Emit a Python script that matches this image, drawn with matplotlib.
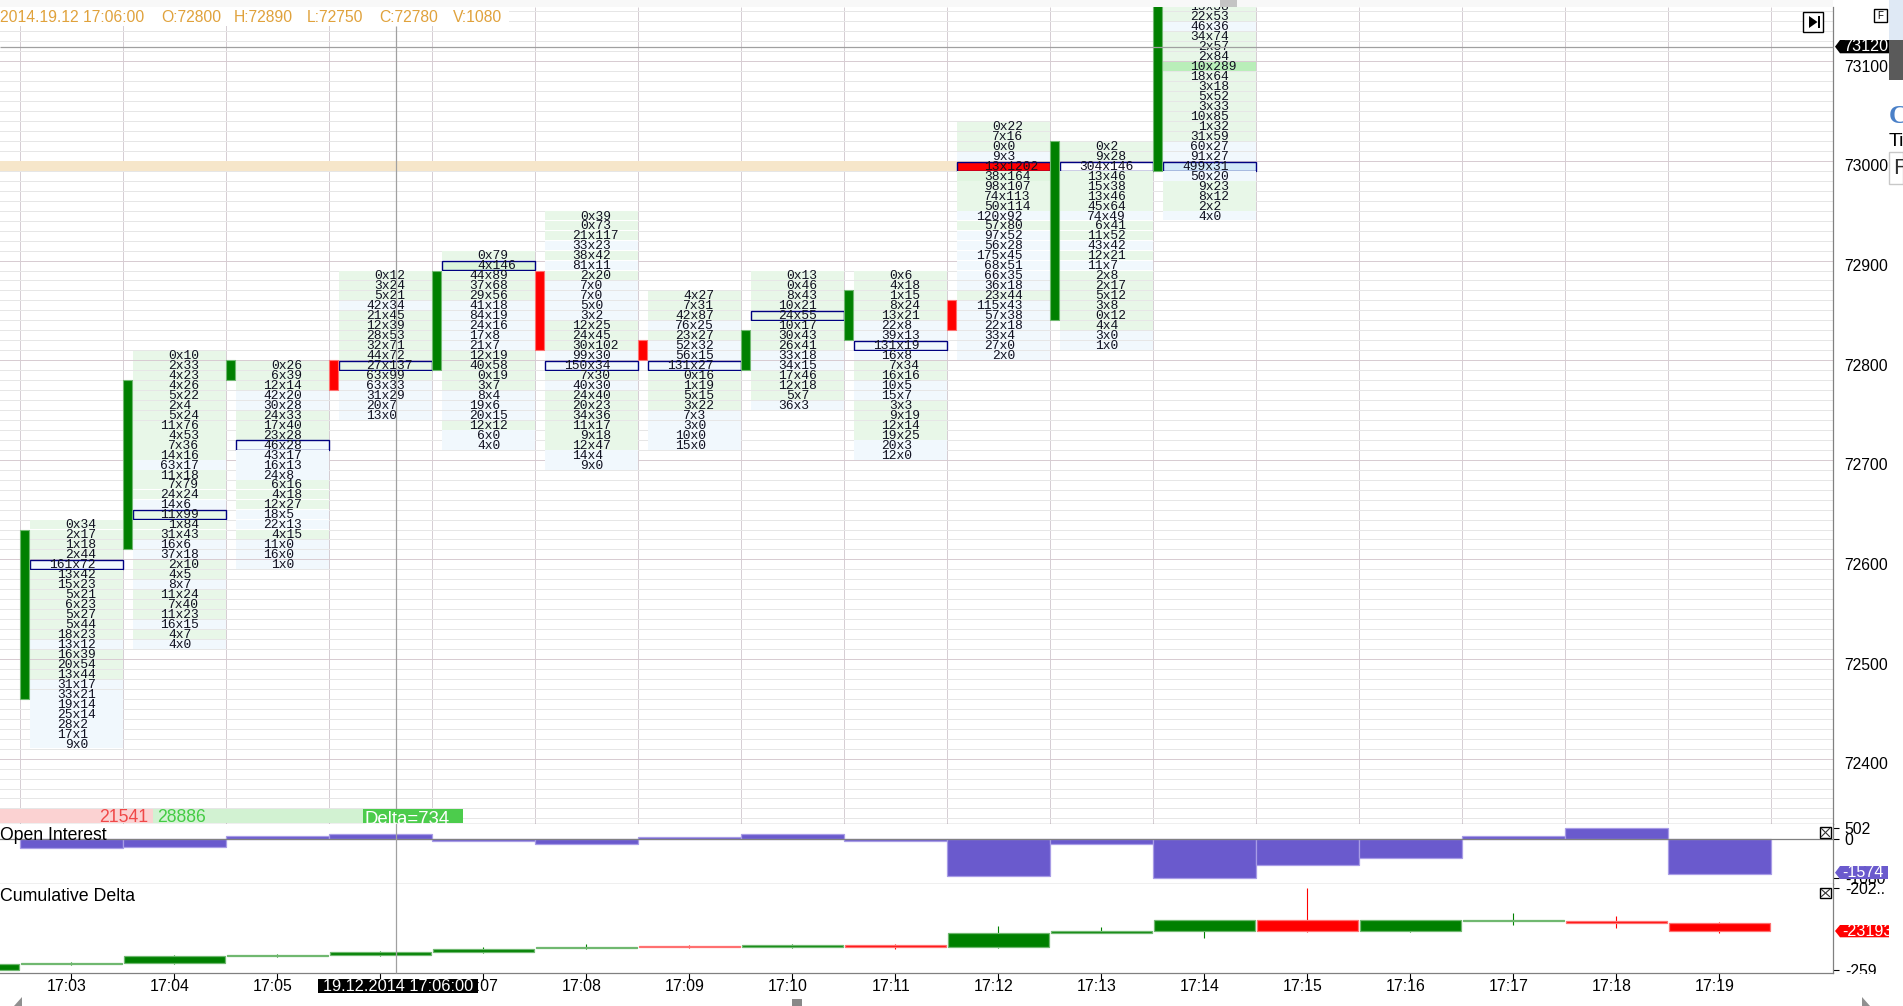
import matplotlib
matplotlib.use('Agg')
import matplotlib.pyplot as plt
from matplotlib.patches import Rectangle, Polygon
from matplotlib.transforms import ScaledTranslation

W, H = 1903, 1006

# footprint candles
bar_times = ['17:03', '17:04', '17:05', '17:06', '17:07', '17:08', '17:09', '17:10',
             '17:11', '17:12', '17:13', '17:14', '17:15', '17:16', '17:17', '17:18', '17:19']
bar_open = [72470, 72620, 72790, 72800, 72800, 72890, 72820, 72800, 72830, 72860, 72850, 73000]
bar_close = [72630, 72780, 72800, 72780, 72890, 72820, 72810, 72830, 72870, 72840, 73020, 73170]
top_price = [72640, 72810, 72800, 72890, 72910, 72950, 72870, 72890, 72890, 73040, 73020, 73160]
poc_price = [72600, 72650, 72720, 72800, 72900, 72800, 72800, 72850, 72820, 73000, 73000, 73000]

rows_0 = ['0x34', '2x17', '1x18', '2x44', '161x72', '13x42', '15x23', '5x21', '6x23', '5x27', '5x44', '18x23',
          '13x12', '16x39', '20x54', '13x44', '31x17', '33x21', '19x14', '25x14', '28x2', '17x1', '9x0']
rows_1 = ['0x10', '2x33', '4x23', '4x26', '5x22', '2x4', '5x24', '11x76', '4x53', '7x36', '14x16', '63x17',
          '11x18', '7x79', '24x24', '14x6', '11x99', '1x84', '31x43', '16x6', '37x18', '2x10', '4x5', '8x7',
          '11x24', '7x40', '11x23', '16x15', '4x7', '4x0']
rows_2 = ['0x26', '6x39', '12x14', '42x20', '30x28', '24x33', '17x40', '23x28', '46x28', '43x17', '16x13', '24x8',
          '6x16', '4x18', '12x27', '18x5', '22x13', '4x15', '11x0', '16x0', '1x0']
rows_3 = ['0x12', '3x24', '5x21', '42x34', '21x45', '12x39', '28x53', '32x71', '44x72', '27x137', '63x99',
          '63x33', '31x29', '20x7', '13x0']
rows_4 = ['0x79', '4x146', '44x89', '37x68', '29x56', '41x18', '84x19', '24x16', '17x8', '21x7', '12x19', '40x58',
          '0x19', '3x7', '8x4', '19x6', '20x15', '12x12', '6x0', '4x0']
rows_5 = ['0x39', '0x73', '21x117', '33x23', '38x42', '81x11', '2x20', '7x0', '7x0', '5x0', '3x2', '12x25', '24x45',
          '30x102', '99x30', '150x34', '7x30', '40x30', '24x40', '20x23', '34x36', '11x17', '9x18', '12x47',
          '14x4', '9x0']
rows_6 = ['4x27', '7x31', '42x87', '76x25', '23x27', '52x32', '56x15', '131x27', '0x16', '1x19', '5x15', '3x22',
          '7x3', '3x0', '10x0', '15x0']
rows_7 = ['0x13', '0x46', '8x43', '10x21', '24x55', '10x17', '30x43', '26x41', '33x18', '34x15', '17x46', '12x18',
          '5x7', '36x3']
rows_8 = ['0x6', '4x18', '1x15', '8x24', '13x21', '22x8', '39x13', '131x19', '16x8', '7x34', '16x16', '10x5', '15x7',
          '3x3', '9x19', '12x14', '19x25', '20x3', '12x0']
rows_9 = ['0x22', '7x16', '0x0', '9x3', '13x1202', '38x164', '98x107', '74x113', '50x114', '120x92', '57x80', '97x52',
          '56x28', '175x45', '68x51', '66x35', '36x18', '23x44', '115x43', '57x38', '22x18', '33x4', '27x0', '2x0']
rows_10 = ['0x2', '9x28', '304x146', '13x46', '15x38', '13x46', '45x64', '74x49', '6x41', '11x52', '43x42', '12x21',
           '11x7', '2x8', '2x17', '5x12', '3x8', '0x12', '4x4', '3x0', '1x0']
rows_11 = ['15x38', '22x53', '46x36', '34x74', '2x57', '2x84', '10x289', '18x64', '3x18', '5x52', '3x33', '10x85',
           '1x32', '31x59', '60x27', '91x27', '499x31', '50x20', '9x23', '8x12', '2x2', '4x0']
all_rows = [rows_0, rows_1, rows_2, rows_3, rows_4, rows_5, rows_6, rows_7, rows_8, rows_9, rows_10, rows_11]

special_cells = {'10x289': '#b9eeb9', '499x31': '#d2e9f8', '13x1202': '#ff0000', '304x146': '#ffffff',
                 '4x146': '#dcf5dc', '38x164': '#e0f5e0'}

# open interest
oi_values = [-411, -365, 167, 228, -60, -228, 122, 228, -60, -1689, -228, -1781, -1187, -868, 167, 502, -1574]

# cumulative delta, first entry is the cut off 17:02 bar
cd_open = [-25919, -25503, -25387, -24900, -24877, -24623, -24391, -24229, -24298, -24159, -24322, -23302,
           -23210, -22446, -23210, -22469, -22469, -22654]
cd_close = [-25503, -25389, -24900, -24854, -24623, -24414, -24275, -24321, -24183, -24298, -23302, -23210,
            -22446, -23210, -22446, -22423, -22654, -23193]
cd_high = [-25503, -25340, -24854, -24808, -24553, -24275, -24090, -24136, -24090, -24113, -22839, -22909,
           -22446, -20222, -22446, -21936, -22168, -22561]
cd_low = [-25919, -25520, -25480, -24970, -24924, -24715, -24460, -24368, -24368, -24437, -24368, -23349,
          -23650, -23256, -23256, -22747, -22955, -23326]

GREEN, GREEN_EDGE = '#008000', '#70b870'
RED, RED_EDGE = '#ff0000', '#ff7070'
PURPLE, PURPLE_EDGE = '#6a5acd', '#a89ce6'
AXIS = '#808080'
SANS = 'Liberation Sans'

fig = plt.figure(figsize=(W / 100, H / 100), dpi=100, facecolor='white')


def make_axes(top, bottom):
    ax = fig.add_axes([0, 1 - bottom / H, 1833 / W, (bottom - top) / H])
    ax.set_xlim(-71.5 / 103, (1833 - 71.5) / 103)
    for side in ['left', 'top']:
        ax.spines[side].set_visible(False)
    for side in ['right', 'bottom']:
        ax.spines[side].set_color(AXIS)
        ax.spines[side].set_linewidth(0.9)
    ax.yaxis.tick_right()
    return ax


def shift_px(dx, dy):
    return ScaledTranslation(dx / 100, dy / 100, fig.dpi_scale_trans)


ax = make_axes(7, 824)
ax_oi = make_axes(824, 884)
ax_cd = make_axes(884, 973)

# main panel
ax.set_ylim(72334.4, 73154.5)
ax.set_yticks(range(72400, 73101, 100))
ax.set_yticks(range(72340, 73151, 10), minor=True)
ax.tick_params(axis='y', which='both', length=0, pad=7.8, labelsize=11.3, labelfontfamily=SANS)
for lab in ax.get_yticklabels():
    lab.set_va('top')
    lab.set_transform(lab.get_transform() + shift_px(0, 1.5))
ax.set_xticks([])
ax.grid(axis='y', which='minor', color='#e6e6e6', lw=0.72, zorder=0)
ax.grid(axis='y', which='major', color='#d8ccd2', lw=0.72, zorder=0)
ax.set_axisbelow(True)
ax.vlines([i - 0.5 for i in range(18)], 72334.4, 73154.5, color='#d6ced4', lw=0.72, zorder=0.5)
ax.fill_between([-1, 9.5], 72990, 73000, color='#f6e6ca', lw=0, zorder=0.6)

for i, rows in enumerate(all_rows):
    left = i - 0.5 + 10.3 / 103
    w = 92.4 / 103
    for k, cell in enumerate(rows):
        price = top_price[i] - 10 * k
        bid, ask = cell.split('x')
        col = '#f1f8fd' if int(bid) > int(ask) else '#e8f7e8'
        col = special_cells.get(cell, col)
        is_poc = price == poc_price[i]
        ax.barh(price - 5.2, w, height=9.2, left=left, color=col, zorder=1,
                edgecolor='#000080' if is_poc else 'none', linewidth=1.0 if is_poc else 0)
        tx = i + (5 - (len(bid) + 0.5) * 7.7) / 103
        ax.text(tx, price - 5.8, cell, family='Liberation Mono', fontsize=9.4, color='#101020',
                ha='left', va='center', zorder=3, clip_on=True)

    top_body = max(bar_open[i], bar_close[i])
    bot_body = min(bar_open[i], bar_close[i]) - 10
    up = bar_close[i] > bar_open[i]
    ax.bar(i - 0.5, top_body - bot_body, width=8.7 / 103, bottom=bot_body, align='edge',
           color=GREEN if up else RED, edgecolor=GREEN_EDGE if up else RED_EDGE, linewidth=0.8, zorder=2)

# open interest panel
ax_oi.set_ylim(-2041, 699)
ax_oi.bar(range(len(oi_values)), oi_values, width=1, color=PURPLE, edgecolor=PURPLE_EDGE, linewidth=0.9, zorder=2)
ax_oi.axhline(0, color=AXIS, lw=0.9, zorder=3)
ax_oi.set_xticks([])
ax_oi.set_yticks([502, 0, -1788], ['502', '0', '-1080'])
ax_oi.tick_params(axis='y', length=4, width=0.8, pad=4.5, labelsize=11.3, labelfontfamily=SANS)
ax_oi.text(0.0, 0.80, 'Open Interest', transform=ax_oi.transAxes, family=SANS, fontsize=12.7, va='center', zorder=5)

# cumulative delta panel
ax_cd.set_ylim(-26107, -19922)
for i in range(len(cd_open)):
    x = i - 1
    up = cd_close[i] >= cd_open[i]
    c, e = (GREEN, GREEN_EDGE) if up else (RED, RED_EDGE)
    ax_cd.vlines(x, cd_low[i], cd_high[i], color=c, lw=0.8, zorder=2)
    ax_cd.bar(x, abs(cd_close[i] - cd_open[i]), width=0.985, bottom=min(cd_open[i], cd_close[i]),
              color=c, edgecolor=e, linewidth=0.9, zorder=3)
ax_cd.set_xticks(range(len(bar_times)), bar_times)
ax_cd.tick_params(axis='x', length=5, width=0.8, pad=0, labelsize=11.4, labelfontfamily=SANS)
for lab in ax_cd.get_xticklabels():
    lab.set_transform(lab.get_transform() + shift_px(-4.5, 1))
ax_cd.set_yticks([-20200, -25900], ['-202..', '-259..'])
ax_cd.tick_params(axis='y', length=4, width=0.8, pad=4.5, labelsize=11.3, labelfontfamily=SANS)
ax_cd.text(0.0, 0.865, 'Cumulative Delta', transform=ax_cd.transAxes, family=SANS, fontsize=12.8, va='center',
           zorder=5)

# window furniture on top, in pixel coordinates
top = fig.add_axes([0, 0, 1, 1], zorder=10)
top.set_xlim(0, W)
top.set_ylim(H, 0)
top.axis('off')


def box(x0, y0, x1, y1, fc, ec='none', lw=0, z=2):
    p = Rectangle((x0, y0), x1 - x0, y1 - y0, fc=fc, ec=ec, lw=lw, zorder=z)
    top.add_patch(p)
    return p


def label(x, y, s, **kw):
    kw.setdefault('family', SANS)
    kw.setdefault('va', 'center')
    return top.text(x, y, s, **kw)


box(0, 0, 1833, 7, '#f8f8f8')
box(1220, 0, 1237, 6.7, '#c4c4c4')
box(0, 7, 509, 26, 'white')
for x, s in [(0, '2014.19.12 17:06:00'), (161, 'O:72800'), (234, 'H:72890'), (307, 'L:72750'),
             (379, 'C:72780'), (453, 'V:1080')]:
    label(x, 17, s, color='#e0a23c', fontsize=11.3, zorder=3)

# crosshair
top.vlines(396.4, 26, 973, color='#a0a0a0', lw=0.9, zorder=1)
top.hlines(46.7, 0, 1833, color='#a0a0a0', lw=0.9, zorder=1)

# volume strip
box(0, 809, 153, 823.3, '#fbd2d2')
box(153, 809, 363, 823.3, '#d2f2d2')
delta_box = box(363, 809, 463, 823.3, '#4ccc4c')
label(148, 817, '21541', color='#f04848', fontsize=12.7, ha='right')
label(157, 817, '28886', color='#44cc44', fontsize=12.7, ha='left')
label(365, 820, 'Delta=734', color='white', fontsize=13.4, ha='left').set_clip_path(delta_box)

# go to end button
box(1803, 12, 1823, 32, 'white', ec='black', lw=1)
top.add_patch(Polygon([(1809, 16), (1809, 28), (1817.5, 22)], fc='black', ec='none', zorder=3))
box(1818, 16, 1820, 28, 'black', z=3)

# price tags
top.add_patch(Polygon([(1835, 46.7), (1840, 40), (1889, 40), (1889, 53.3), (1840, 53.3)], fc='black', zorder=4))
label(1843, 46.7, '73120', color='white', fontsize=11.6, zorder=5)
box(1835, 973.6, 1903, 979, 'white', z=3)
top.add_patch(Polygon([(1835, 872.7), (1840, 866), (1888, 866), (1888, 879), (1840, 879)], fc=PURPLE, zorder=4))
label(1842, 872.7, '-1574', color='white', fontsize=11.6, zorder=5)
top.add_patch(Polygon([(1835, 931), (1840, 925), (1889, 925), (1889, 937.3), (1840, 937.3)], fc=RED, zorder=4))
label(1842, 931, '-23193', color='white', fontsize=11.6, zorder=5).set_clip_path(
    Rectangle((1835, 920), 54, 20, transform=top.transData))

# date label on the time axis
box(318, 979, 477.5, 992.7, 'black', z=4)
label(397.7, 986.5, '19.12.2014 17:06:00', color='white', fontsize=11.8, ha='center', zorder=5)

# panel close boxes
for y0, y1 in [(827, 838), (888, 898)]:
    box(1820, y0, 1831, y1, 'white', ec='black', lw=1, z=3)
    top.plot([1821.5, 1829.5], [y0 + 1.5, y1 - 1.5], color='#333333', lw=0.8, zorder=4)
    top.plot([1821.5, 1829.5], [y1 - 1.5, y0 + 1.5], color='#333333', lw=0.8, zorder=4)

# scroll handles
top.add_patch(Polygon([(14, 1006), (22, 997), (22, 1006)], fc='#909090', zorder=3))
box(792, 999, 802, 1006, '#888888')
top.add_patch(Polygon([(1862, 997), (1870, 1006), (1862, 1006)], fc='#909090', zorder=3))

# bits of the side panel
box(1874, 9, 1887, 22, 'white', ec='black', lw=1)
label(1880.5, 15.5, 'F', fontsize=7, ha='center')
box(1889, 0, 1903, 40, '#dfe9f5')
box(1889, 40, 1903, 80, '#5a5a5a')
label(1889, 116, 'C', family='Liberation Serif', color='#4a80c8', fontsize=19, weight='bold')
label(1889, 141, 'Ti', fontsize=14, color='black')
box(1889, 152, 1903, 184, 'white', ec='#c8c8c8', lw=1)
label(1893, 168, 'F', fontsize=16, color='#303030')

fig.savefig('out.png', dpi=100)
